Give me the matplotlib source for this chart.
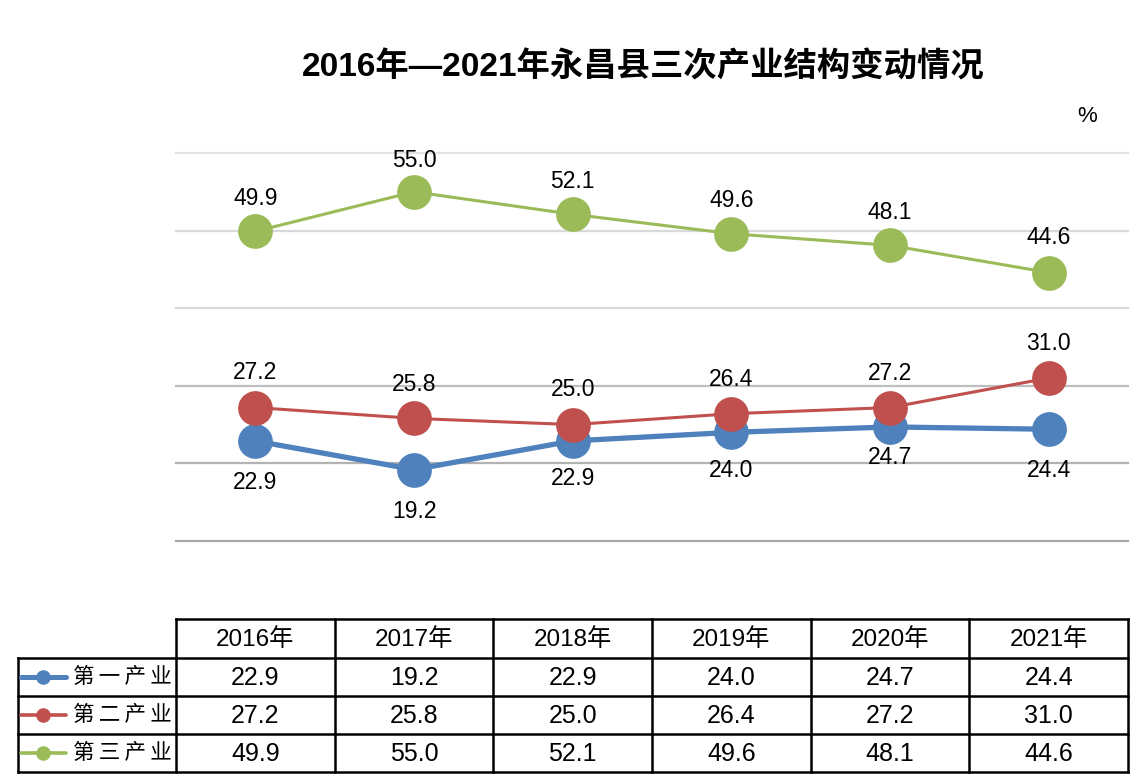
import matplotlib
matplotlib.use("Agg")
import matplotlib.pyplot as plt
from matplotlib.lines import Line2D

plt.rcParams['font.family'] = ['Liberation Sans', 'Noto Sans CJK SC', 'DejaVu Sans']

years = ["2016年", "2017年", "2018年", "2019年", "2020年", "2021年"]
series_names = ["第一产业", "第二产业", "第三产业"]
primary = [22.9, 19.2, 22.9, 24.0, 24.7, 24.4]
secondary = [27.2, 25.8, 25.0, 26.4, 27.2, 31.0]
tertiary = [49.9, 55.0, 52.1, 49.6, 48.1, 44.6]
title = "2016年—2021年永昌县三次产业结构变动情况"
unit = "%"

values = [primary, secondary, tertiary]
colors = ["#4f81bd", "#c0504d", "#9bbb59"]
lws = [3.8, 2.2, 2.2]
leg_lws = [3.6, 2.6, 2.6]
label_offsets = [[42, 42, 38, 38, 31, 41], [-35, -34, -35, -34, -34, -35], [-33, -31, -33, -33, -33, -35]]

W, H = 1147, 779
fig = plt.figure(figsize=(W / 100, H / 100), dpi=100)

ax_l, ax_r, ax_t, ax_b = 176, 1128, 153, 541
ax = fig.add_axes([ax_l / W, 1 - ax_b / H, (ax_r - ax_l) / W, (ax_b - ax_t) / H])
x = list(range(len(years)))
ax.set_xlim(-0.5, len(years) - 0.5)
ax.set_ylim(10, 60)
grid_cols = {10: "#a6a6a6", 20: "#b3b3b3", 30: "#bfbfbf", 40: "#d9d9d9", 50: "#d9d9d9", 60: "#e3e3e3"}
for yv, c in grid_cols.items():
    ax.axhline(yv, color=c, lw=1.6, zorder=0, clip_on=False)
for s in ax.spines.values():
    s.set_visible(False)
ax.set_xticks([])
ax.set_yticks([])

for vals, c, lw, offs in zip(values, colors, lws, label_offsets):
    ax.plot(x, vals, color=c, lw=lw, marker="o", markersize=25, markeredgewidth=0, zorder=3)
    for xi, v, o in zip(x, vals, offs):
        ax.annotate(f"{v:.1f}", (xi, v), xytext=(0, -o * 0.72), textcoords="offset points",
                    ha="center", va="center", fontsize=16.5, color="black", zorder=4)

fig.text(643 / W, 1 - 68 / H, title, ha="center", va="center", fontsize=24, fontweight="bold")
fig.text(1087 / W, 1 - 117 / H, unit, ha="center", va="center", fontsize=16)

# data table
tax = fig.add_axes([0, 0, 1, 1])
tax.set_xlim(0, W)
tax.set_ylim(H, 0)
tax.axis("off")
col_edges = [ax_l + i * (ax_r - ax_l) / len(years) for i in range(len(years) + 1)]
row_edges = [619, 658, 696, 734, 772]
leg_l = 18
lc = "black"
lw_t = 1.8
tax.plot([ax_l, ax_r], [row_edges[0], row_edges[0]], color=lc, lw=lw_t)
for ry in row_edges[1:]:
    tax.plot([leg_l, ax_r], [ry, ry], color=lc, lw=lw_t)
tax.plot([leg_l, leg_l], [row_edges[1], row_edges[-1]], color=lc, lw=lw_t)
for cx in col_edges:
    tax.plot([cx, cx], [row_edges[0], row_edges[-1]], color=lc, lw=lw_t)

for i, yr in enumerate(years):
    cx = (col_edges[i] + col_edges[i + 1]) / 2
    tax.text(cx, (row_edges[0] + row_edges[1]) / 2 + 1, yr, ha="center", va="center", fontsize=17.5)
for r, (name, vals, c, lw) in enumerate(zip(series_names, values, colors, leg_lws)):
    cy = (row_edges[r + 1] + row_edges[r + 2]) / 2
    tax.add_line(Line2D([21, 66], [cy, cy], color=c, lw=lw, solid_capstyle="round"))
    tax.plot([43], [cy], marker="o", color=c, markersize=10.5, markeredgewidth=0)
    tax.text(122, cy, "\u2009".join(name), ha="center", va="center", fontsize=15.5,
             family=['Noto Sans CJK SC', 'DejaVu Sans'])
    for i, v in enumerate(vals):
        cx = (col_edges[i] + col_edges[i + 1]) / 2
        tax.text(cx, cy + 1, f"{v:.1f}", ha="center", va="center", fontsize=18)

fig.savefig("out.png", dpi=100)
